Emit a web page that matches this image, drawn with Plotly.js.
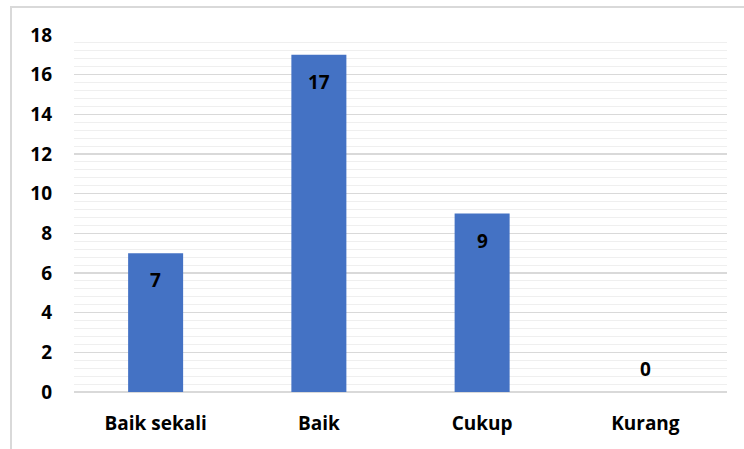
<!DOCTYPE html>
<html><head><meta charset="utf-8">
<script src="https://cdn.plot.ly/plotly-3.0.1.min.js"></script>
<style>
html,body{margin:0;padding:0;background:#fff;}
#wrap{position:relative;width:744px;height:449px;overflow:hidden;}
#chart{position:absolute;left:0;top:0;width:744px;height:449px;}
#frame{position:absolute;left:10px;top:6px;width:800px;height:500px;border:2px solid #d9d9d9;box-sizing:border-box;pointer-events:none;}
</style></head>
<body><div id="wrap"><div id="chart"></div><div id="frame"></div></div>
<script>
const categories = ["Baik sekali", "Baik", "Cukup", "Kurang"];
const values = [7, 17, 9, 0];
const yTicks = [0, 2, 4, 6, 8, 10, 12, 14, 16, 18];

const FAM = "Open Sans, sans-serif";
const FS = 19;

const annotations = categories.map((c, i) => ({
  x: c, y: values[i], xref: "x", yref: "y",
  text: "<b>" + values[i] + "</b>", showarrow: false,
  yshift: values[i] > 0 ? -27 : 23,
  font: {family: FAM, size: FS, color: "#000"}
}));

Plotly.newPlot("chart", [{
  type: "bar", x: categories, y: values,
  marker: {color: "#4472C4"}, width: 0.337, hoverinfo: "none"
}], {
  width: 744, height: 449,
  margin: {l: 74, r: 17, t: 35, b: 57},
  paper_bgcolor: "#fff", plot_bgcolor: "#fff",
  showlegend: false,
  xaxis: {
    type: "category", showgrid: false, zeroline: false, showline: false, ticks: "",
    ticklabelstandoff: 18,
    tickfont: {family: FAM, size: FS, color: "#000", weight: "bold"}
  },
  yaxis: {
    range: [0, 18], tickvals: yTicks, ticktext: yTicks.map(String),
    showgrid: true, gridcolor: "#d9d9d9", gridwidth: 1.5,
    zeroline: true, zerolinecolor: "#d9d9d9", zerolinewidth: 1.5,
    minor: {dtick: 0.4, showgrid: true, gridcolor: "#efefef", gridwidth: 1, ticks: ""},
    showline: false, ticks: "", ticklabelstandoff: 21,
    tickfont: {family: FAM, size: FS, color: "#000", weight: "bold"}
  },
  annotations: annotations
}, {staticPlot: true, displayModeBar: false});
</script></body></html>
